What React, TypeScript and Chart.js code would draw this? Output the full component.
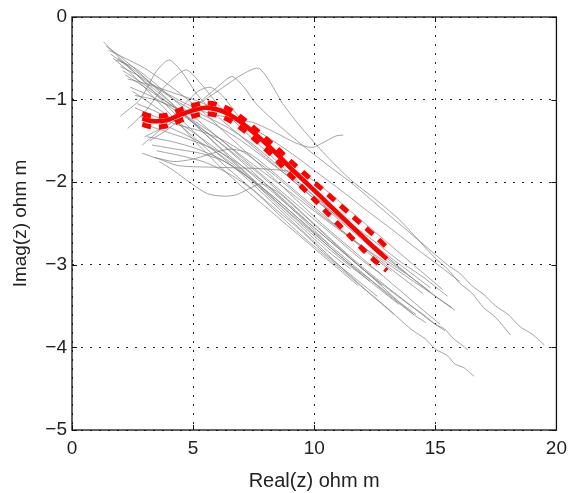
import React, { useEffect, useRef } from "react";
import { Chart, registerables } from "chart.js";

Chart.register(...registerables);

type Pt = [number, number];

// x tick / y tick settings
const xTicks = [0, 5, 10, 15, 20];
const yTicks = [-5, -4, -3, -2, -1, 0];
const xTitle = "Real(z) ohm m";
const yTitle = "Imag(z) ohm m";

// Gray measured curves (Real, Imag)
const curve01: Pt[] = [[1.3,-0.3],[1.8,-0.45],[2.5,-0.65],[3.2,-0.85],[4,-1.1],[5,-1.38],[6,-1.65],[7,-1.9],[8,-2.17],[9,-2.45],[10,-2.72],[11,-3.0],[12,-3.27],[13,-3.52],[14,-3.78],[14.6,-3.9],[15,-4.02],[15.5,-4.1],[15.8,-4.2],[16.2,-4.25],[16.6,-4.35]];
const curve02: Pt[] = [[1.6,-0.45],[2.3,-0.6],[3,-0.78],[4,-1.02],[5,-1.28],[6,-1.55],[7,-1.8],[8,-2.05],[9,-2.3],[10,-2.55],[11,-2.8],[12,-3.05],[13,-3.28],[14,-3.5],[14.5,-3.6],[15,-3.72],[15.4,-3.78],[15.7,-3.88],[16.35,-4.03]];
const curve03: Pt[] = [[1.8,-0.52],[2.5,-0.6],[3.2,-0.75],[4,-0.95],[5,-1.2],[6,-1.45],[7,-1.68],[8,-1.9],[9,-2.12],[10,-2.35],[11,-2.57],[12,-2.78],[13,-2.98],[14,-3.18],[15,-3.38],[15.8,-3.55]];
const curve04: Pt[] = [[3.2,-1.5],[4,-1.35],[5,-1.1],[6,-0.85],[6.6,-0.72],[7.1,-0.85],[7.6,-1.05],[8.5,-1.3],[9.5,-1.55],[10.5,-1.78],[11.5,-2.0],[12.5,-2.25],[13.5,-2.5],[14.5,-2.75],[15.5,-3.0],[16,-3.1],[16.5,-3.25],[17,-3.36],[17.5,-3.5],[18,-3.6],[18.5,-3.75],[19,-3.84],[19.5,-3.97]];
const curve05: Pt[] = [[3.0,-1.45],[4,-1.3],[5,-1.1],[6,-0.9],[7,-0.7],[7.7,-0.62],[8.2,-0.8],[8.7,-1.05],[9.5,-1.35],[10.5,-1.68],[11.5,-1.97],[12.5,-2.2],[13.5,-2.45],[14.3,-2.7],[15,-2.92],[15.5,-3.05],[16,-3.22],[16.5,-3.34],[17,-3.52],[17.5,-3.64],[18.1,-3.85]];
const curve06: Pt[] = [[2.0,-1.2],[2.8,-1.0],[3.5,-0.65],[4.0,-0.52],[4.5,-0.65],[5.2,-0.95],[6,-1.2],[7,-1.45],[8,-1.7],[9,-1.95],[10,-2.2],[11,-2.45],[12,-2.7],[13,-2.95],[14,-3.15],[14.8,-3.33]];
const curve07: Pt[] = [[2.3,-1.35],[3,-1.15],[3.8,-0.85],[4.7,-0.64],[5.3,-0.8],[6,-1.05],[7,-1.35],[8,-1.62],[9,-1.9],[10,-2.17],[11,-2.43],[12,-2.68],[13,-2.92],[14,-3.15],[15,-3.38],[15.7,-3.52]];
const curve08: Pt[] = [[1.9,-0.5],[2.6,-0.65],[3.5,-0.85],[4.5,-1.02],[5.5,-1.15],[6.5,-1.22],[7.5,-1.28],[8.4,-1.4],[9.2,-1.52],[9.9,-1.58],[10.5,-1.5],[10.9,-1.44],[11.2,-1.43]];
const curve09: Pt[] = [[3.6,-1.75],[4.2,-1.86],[4.85,-2.0],[5.6,-2.14],[6.3,-2.17],[6.8,-2.15],[7.3,-2.08],[7.8,-2.02],[8.5,-2.12],[9.5,-2.38],[10.5,-2.65],[11.5,-2.92],[12.5,-3.18],[13.5,-3.45],[14.1,-3.6]];
const curve10: Pt[] = [[2.9,-1.65],[3.6,-1.72],[4.4,-1.8],[6,-1.82],[8,-1.84],[9.5,-1.9],[10.5,-2.1],[11.5,-2.35],[12.5,-2.6],[13.5,-2.85],[14.5,-3.1],[15.3,-3.3]];
const curve11: Pt[] = [[2.5,-0.9],[3.5,-1.1],[4.5,-1.32],[5.5,-1.58],[6.5,-1.85],[7.5,-2.1],[8.5,-2.38],[9.5,-2.65],[10.5,-2.9],[11.5,-3.15],[12.5,-3.4],[13.3,-3.6]];
const curve12: Pt[] = [[2.7,-1.05],[3.5,-1.15],[4.5,-1.3],[5.5,-1.5],[6.5,-1.72],[7.5,-1.98],[8.5,-2.22],[9.5,-2.48],[10.5,-2.75],[11.5,-3.0],[12.5,-3.22],[13.5,-3.45],[14.2,-3.6]];
const curve13: Pt[] = [[2.2,-0.7],[3,-0.85],[4,-1.05],[5,-1.25],[6,-1.45],[7,-1.7],[8,-1.95],[9,-2.2],[10,-2.45],[11,-2.7],[12,-2.95],[12.8,-3.12]];
const curve14: Pt[] = [[3.0,-1.3],[4,-1.4],[5,-1.5],[6,-1.62],[7,-1.8],[8,-2.02],[9,-2.28],[10,-2.55],[11,-2.8],[12,-3.05],[12.8,-3.25]];
const curve15: Pt[] = [[3.3,-1.55],[4.3,-1.6],[5.3,-1.65],[6.3,-1.75],[7.3,-1.95],[8.3,-2.2],[9.3,-2.45],[10.3,-2.7],[11.3,-2.95],[12.3,-3.2],[13.5,-3.48]];
const curve16: Pt[] = [[2.0,-0.6],[2.8,-0.72],[3.6,-0.88],[4.5,-1.05],[5.5,-1.2],[6.5,-1.35],[7.5,-1.55],[8.5,-1.8],[9.5,-2.05],[10.5,-2.28],[11.5,-2.5],[12.5,-2.72],[13.5,-2.95],[14.5,-3.15],[15.5,-3.38]];
const curve17: Pt[] = [[1.5,-0.4],[2.2,-0.5],[3,-0.62],[3.8,-0.78],[4.7,-0.98],[5.6,-1.2],[6.5,-1.45],[7.5,-1.72],[8.5,-2.0],[9.5,-2.28],[10.5,-2.55],[11.5,-2.8],[12.5,-3.05],[13.5,-3.3],[14.5,-3.55],[15.2,-3.72]];
const curve18: Pt[] = [[2.4,-0.85],[3.2,-0.95],[4,-1.08],[5,-1.28],[6,-1.5],[7,-1.75],[8,-2.02],[9,-2.3],[10,-2.58],[10.6,-2.75]];
const curve19: Pt[] = [[2.8,-1.2],[3.6,-1.28],[4.5,-1.4],[5.5,-1.55],[6.5,-1.75],[7.5,-2.0],[8.5,-2.28],[9.5,-2.55],[10.5,-2.82],[11.5,-3.05]];
const curve20: Pt[] = [[3.1,-1.45],[4,-1.5],[5,-1.58],[6,-1.7],[7,-1.88],[8,-2.1],[9,-2.35],[10,-2.6],[11,-2.85],[12,-3.1],[13,-3.35],[14,-3.58],[14.6,-3.7]];
const curve21: Pt[] = [[2.6,-0.95],[3.4,-1.0],[4.3,-1.1],[5.2,-1.2],[6,-1.32],[7,-1.5],[8,-1.72],[9,-1.95],[10,-2.2],[11,-2.42],[12,-2.65],[13,-2.88],[14,-3.1],[14.8,-3.28]];
const curve22: Pt[] = [[2.9,-1.55],[3.7,-1.35],[4.5,-1.1],[5.2,-0.9],[5.7,-0.85],[6.2,-0.95],[7,-1.25],[8,-1.55],[9,-1.85],[10,-2.12],[11,-2.4],[12,-2.65],[13,-2.9],[13.8,-3.1]];
const curve23: Pt[] = [[1.7,-0.5],[2.5,-0.7],[3.3,-0.95],[4.2,-1.22],[5,-1.48],[6,-1.78],[7,-2.05],[8,-2.3],[9,-2.55],[10,-2.8],[11,-3.05],[11.8,-3.25]];
const curve24: Pt[] = [[2.3,-0.75],[3.2,-0.82],[4.2,-0.92],[5.2,-1.02],[6.2,-1.15],[7.2,-1.3],[8.2,-1.48],[9.2,-1.68],[10.2,-1.9],[11.2,-2.12],[12.2,-2.35],[13.2,-2.57],[14.2,-2.8],[15.2,-3.02],[16,-3.2]];
const curve25: Pt[] = [[3.4,-1.7],[4.2,-1.75],[5,-1.72],[5.8,-1.65],[6.5,-1.6],[7.3,-1.65],[8.2,-1.85],[9.2,-2.1],[10.2,-2.35],[11.2,-2.6],[12.2,-2.85],[13.2,-3.08]];
const curve26: Pt[] = [[2.1,-0.65],[2.9,-0.8],[3.8,-1.0],[4.8,-1.22],[5.8,-1.45],[6.8,-1.68],[7.8,-1.92],[8.8,-2.18],[9.8,-2.45],[10.8,-2.72],[11.8,-2.98],[12.8,-3.22],[13.8,-3.45],[14.8,-3.68],[15.4,-3.8]];
const curve27: Pt[] = [[2.6,-1.1],[3.4,-1.2],[4.3,-1.3],[5.3,-1.38],[6.3,-1.5],[7.3,-1.68],[8.3,-1.9],[9.3,-2.15],[10.3,-2.4],[11.3,-2.62],[12.3,-2.85],[13.3,-3.08],[14.5,-3.35]];
const curve28: Pt[] = [[1.4,-0.35],[2,-0.48],[2.8,-0.68],[3.6,-0.9],[4.5,-1.15],[5.5,-1.42],[6.5,-1.7],[7.5,-1.97],[8.5,-2.25],[9.5,-2.52],[10.5,-2.78],[11.5,-3.02],[12.3,-3.2]];
const curve29: Pt[] = [[3.5,-1.62],[4.5,-1.68],[5.5,-1.76],[6.5,-1.9],[7.5,-2.1],[8.5,-2.35],[9.5,-2.6],[10.5,-2.88],[11.5,-3.12],[12.6,-3.38]];

const grayCurves: Pt[][] = [
  curve01, curve02, curve03, curve04, curve05, curve06, curve07, curve08, curve09, curve10,
  curve11, curve12, curve13, curve14, curve15, curve16, curve17, curve18, curve19, curve20,
  curve21, curve22, curve23, curve24, curve25, curve26, curve27, curve28, curve29,
];

// Red mean curve and its bounds
const redX = [2.9, 3.3, 3.9, 4.5, 5.0, 5.5, 6.0, 6.5, 7.0, 7.5, 8.0, 8.5, 9.0, 9.5, 10.0, 10.5, 11.0, 11.5, 12.0, 12.5, 13.0];
const redMean = [-1.23, -1.26, -1.25, -1.18, -1.13, -1.10, -1.12, -1.18, -1.28, -1.40, -1.53, -1.67, -1.82, -1.96, -2.10, -2.24, -2.38, -2.52, -2.66, -2.80, -2.93];
const redUpper = [-1.17, -1.20, -1.19, -1.12, -1.07, -1.04, -1.06, -1.12, -1.22, -1.34, -1.47, -1.60, -1.74, -1.87, -2.00, -2.13, -2.26, -2.39, -2.52, -2.65, -2.79];
const redLower = [-1.30, -1.33, -1.32, -1.25, -1.20, -1.17, -1.19, -1.25, -1.35, -1.47, -1.60, -1.75, -1.91, -2.06, -2.21, -2.36, -2.51, -2.66, -2.81, -2.95, -3.07];

const FONT = "'Liberation Sans', Arial, Helvetica, sans-serif";

const framePlugin = {
  id: "frame",
  afterDatasetsDraw(chart: any) {
    const { ctx, chartArea } = chart;
    const xs = chart.scales.x;
    const ys = chart.scales.y;
    ctx.save();
    ctx.strokeStyle = "#111";
    ctx.lineWidth = 1.3;
    ctx.strokeRect(chartArea.left, chartArea.top, chartArea.right - chartArea.left, chartArea.bottom - chartArea.top);
    ctx.lineWidth = 1;
    const tl = 5;
    ctx.beginPath();
    for (const v of xTicks) {
      const px = Math.round(xs.getPixelForValue(v)) + 0.5;
      ctx.moveTo(px, chartArea.bottom);
      ctx.lineTo(px, chartArea.bottom - tl);
      ctx.moveTo(px, chartArea.top);
      ctx.lineTo(px, chartArea.top + tl);
    }
    for (const v of yTicks) {
      const py = Math.round(ys.getPixelForValue(v)) + 0.5;
      ctx.moveTo(chartArea.left, py);
      ctx.lineTo(chartArea.left + tl, py);
      ctx.moveTo(chartArea.right, py);
      ctx.lineTo(chartArea.right - tl, py);
    }
    ctx.stroke();
    ctx.restore();
  },
};

export default function App() {
  const ref = useRef<HTMLCanvasElement | null>(null);

  useEffect(() => {
    if (!ref.current) return;
    const toPts = (xs: number[], ys: number[]) => xs.map((x, i) => ({ x, y: ys[i] }));

    const datasets: any[] = [
      {
        data: toPts(redX, redMean),
        borderColor: "#ff0000",
        borderWidth: 4.5,
        pointRadius: 0,
        showLine: true,
        tension: 0.3,
        order: 0,
      },
      {
        data: toPts(redX, redUpper),
        borderColor: "#ff0000",
        borderWidth: 5,
        borderDash: [9, 8],
        pointRadius: 0,
        showLine: true,
        tension: 0.3,
        order: 0,
      },
      {
        data: toPts(redX, redLower),
        borderColor: "#ff0000",
        borderWidth: 5,
        borderDash: [9, 8],
        pointRadius: 0,
        showLine: true,
        tension: 0.3,
        order: 0,
      },
      ...grayCurves.map((c) => ({
        data: c.map(([x, y]) => ({ x, y })),
        borderColor: "rgba(125,125,125,0.7)",
        borderWidth: 1,
        pointRadius: 0,
        showLine: true,
        tension: 0.25,
        order: 1,
      })),
    ];

    const chart = new Chart(ref.current, {
      type: "scatter",
      data: { datasets },
      plugins: [framePlugin],
      options: {
        animation: false,
        responsive: true,
        maintainAspectRatio: false,
        layout: { padding: { top: 17, right: 15, left: 0, bottom: 0 } },
        plugins: { legend: { display: false }, tooltip: { enabled: false } },
        scales: {
          x: {
            type: "linear",
            min: 0,
            max: 20,
            afterFit: (s: any) => { s.height = 63; },
            afterBuildTicks: (s: any) => { s.ticks = xTicks.map((v) => ({ value: v })); },
            ticks: {
              color: "#222",
              font: { family: FONT, size: 19 },
              padding: 7,
              callback: (v: any) => String(v),
            },
            grid: {
              color: "#222",
              lineWidth: 1,
              drawTicks: false,
            },
            border: { display: false, dash: [2, 7] },
            title: {
              display: true,
              text: xTitle,
              color: "#222",
              font: { family: FONT, size: 20 },
              padding: { top: 0, bottom: 0 },
            },
          },
          y: {
            type: "linear",
            min: -5,
            max: 0,
            afterFit: (s: any) => { s.width = 72; },
            afterBuildTicks: (s: any) => { s.ticks = yTicks.map((v) => ({ value: v })); },
            ticks: {
              color: "#222",
              font: { family: FONT, size: 19 },
              padding: 5,
              callback: (v: any) => (Number(v) < 0 ? "\u2212" + Math.abs(Number(v)) : String(v)),
            },
            grid: {
              color: "#222",
              lineWidth: 1,
              drawTicks: false,
            },
            border: { display: false, dash: [2, 7] },
            title: {
              display: true,
              text: yTitle,
              color: "#222",
              font: { family: FONT, size: 19 },
              padding: { top: 9, bottom: 0 },
            },
          },
        },
      } as any,
    });
    return () => chart.destroy();
  }, []);

  return (
    <div style={{ position: "fixed", left: 0, top: 0, width: 574, height: 493, background: "#fff" }}>
      <canvas ref={ref} />
    </div>
  );
}
